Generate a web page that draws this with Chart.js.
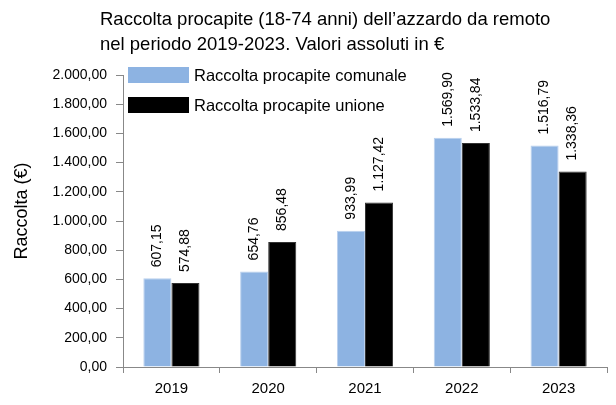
<!DOCTYPE html>
<html>
<head>
<meta charset="utf-8">
<script src="https://cdn.jsdelivr.net/npm/chart.js@4.4.1/dist/chart.umd.min.js"></script>
<style>
  html, body { margin: 0; padding: 0; background: #fff; }
  #wrap { width: 616px; height: 405px; position: relative; }
</style>
</head>
<body>
<div id="wrap"><canvas id="chart"></canvas></div>
<script>
const years = ['2019', '2020', '2021', '2022', '2023'];
const comunale = [607.15, 654.76, 933.99, 1569.90, 1516.79];
const unione = [574.88, 856.48, 1127.42, 1533.84, 1338.36];
const seriesNames = ['Raccolta procapite comunale', 'Raccolta procapite unione'];
const titleLines = ['Raccolta procapite (18-74 anni) dell’azzardo da remoto', 'nel periodo 2019-2023. Valori assoluti in €'];
const yTitle = 'Raccolta (€)';

const FONT = '"Liberation Sans", Arial, sans-serif';

// italian number format: 1.569,90
function fmt(v) {
  const parts = v.toFixed(2).split('.');
  const int = parts[0].replace(/\B(?=(\d{3})+(?!\d))/g, '.');
  return int + ',' + parts[1];
}

// title, legend and value labels drawn by hand
const decorations = {
  id: 'decorations',
  afterDatasetsDraw(chart) {
    const ctx = chart.ctx;
    ctx.save();
    ctx.fillStyle = '#000';

    // value labels, rotated, above each bar
    ctx.font = '14px ' + FONT;
    chart.data.datasets.forEach((ds, i) => {
      chart.getDatasetMeta(i).data.forEach((bar, j) => {
        ctx.save();
        ctx.translate(bar.x, bar.y - 11);
        ctx.rotate(-Math.PI / 2);
        ctx.textAlign = 'left';
        ctx.textBaseline = 'middle';
        ctx.fillText(fmt(ds.data[j]), 0, 0);
        ctx.restore();
      });
    });

    // title
    ctx.font = '18.5px ' + FONT;
    ctx.textAlign = 'left';
    ctx.textBaseline = 'middle';
    ctx.fillText(titleLines[0], 100, 20);
    ctx.fillText(titleLines[1], 100, 45);

    // y axis title
    ctx.font = '18px ' + FONT;
    ctx.save();
    ctx.translate(22, 211);
    ctx.rotate(-Math.PI / 2);
    ctx.textAlign = 'center';
    ctx.fillText(yTitle, 0, 0);
    ctx.restore();

    // legend inside plot
    ctx.font = '16.5px ' + FONT;
    chart.data.datasets.forEach((ds, i) => {
      const y = 67 + i * 30;
      ctx.fillStyle = ds.backgroundColor;
      ctx.fillRect(128, y, 61, 16);
      ctx.fillStyle = '#000';
      ctx.fillText(seriesNames[i], 194, y + 9);
    });
    ctx.restore();
  }
};

new Chart(document.getElementById('chart'), {
  type: 'bar',
  data: {
    labels: years,
    datasets: [
      { label: seriesNames[0], data: comunale, backgroundColor: '#8DB3E2', borderColor: '#B9D0EE', borderWidth: 1 },
      { label: seriesNames[1], data: unione, backgroundColor: '#000000', borderColor: '#333333', borderWidth: 1 }
    ]
  },
  options: {
    responsive: true,
    maintainAspectRatio: false,
    animation: false,
    datasets: { bar: { categoryPercentage: 0.58, barPercentage: 1.0 } },
    layout: { padding: { left: 0, right: 9, top: 75, bottom: 0 } },
    plugins: {
      legend: { display: false },
      title: { display: false },
      tooltip: { enabled: false }
    },
    scales: {
      x: {
        grid: { display: true, offset: true, drawOnChartArea: false, tickLength: 6, color: '#888' },
        border: { display: true, color: '#888' },
        ticks: { color: '#000', font: { family: FONT, size: 15 }, padding: 7 },
        afterFit(s) { s.height = 38; }
      },
      y: {
        min: 0,
        max: 2000,
        grid: { display: true, drawOnChartArea: false, tickLength: 7, color: '#888' },
        border: { display: true, color: '#888' },
        ticks: { stepSize: 200, color: '#000', font: { family: FONT, size: 14 }, padding: 9, callback: v => fmt(v) },
        afterFit(s) { s.width = 123; }
      }
    }
  },
  plugins: [decorations]
});
</script>
</body>
</html>
